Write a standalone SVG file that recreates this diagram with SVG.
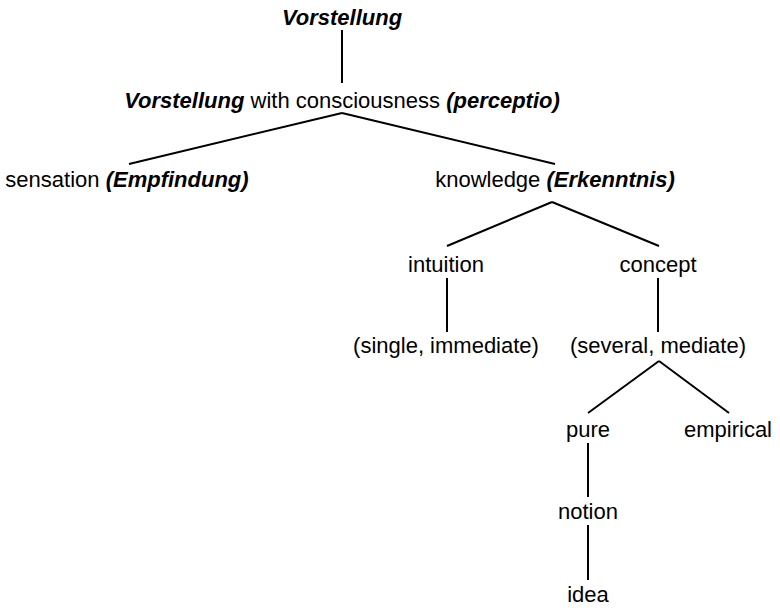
<svg xmlns="http://www.w3.org/2000/svg" width="780" height="608" viewBox="0 0 780 608">
<style>
text{font-family:"Liberation Sans",Arial,sans-serif;font-size:22px;fill:#000;text-anchor:middle}
.b{font-weight:bold;font-style:italic}
.e{stroke:#000;stroke-width:2;fill:none;stroke-linecap:butt}
</style>
<rect width="780" height="608" fill="#fff"/>
<g id="connectors">
<line class="e" x1="342" y1="30" x2="342" y2="83"/>
<line class="e" x1="342" y1="113" x2="129" y2="164"/>
<line class="e" x1="342" y1="113" x2="555" y2="164"/>
<line class="e" x1="552" y1="202" x2="447" y2="246"/>
<line class="e" x1="552" y1="202" x2="659" y2="246"/>
<line class="e" x1="447" y1="278" x2="447" y2="332"/>
<line class="e" x1="658" y1="278" x2="658" y2="332"/>
<line class="e" x1="659" y1="361" x2="588" y2="413"/>
<line class="e" x1="659" y1="361" x2="729" y2="413"/>
<line class="e" x1="588" y1="443" x2="588" y2="497"/>
<line class="e" x1="588" y1="525" x2="588" y2="580"/>
</g>
<g id="vorstellung"><text x="342" y="25" class="b">Vorstellung</text></g>
<g id="perceptio"><text x="342" y="108"><tspan class="b">Vorstellung</tspan> with consciousness <tspan class="b">(perceptio)</tspan></text></g>
<g id="sensation"><text x="127" y="187">sensation <tspan class="b">(Empfindung)</tspan></text></g>
<g id="knowledge"><text x="555" y="187">knowledge <tspan class="b">(Erkenntnis)</tspan></text></g>
<g id="intuition"><text x="446" y="272">intuition</text></g>
<g id="concept"><text x="658" y="272">concept</text></g>
<g id="single"><text x="446" y="353">(single, immediate)</text></g>
<g id="several"><text x="658" y="353">(several, mediate)</text></g>
<g id="pure"><text x="588" y="437">pure</text></g>
<g id="empirical"><text x="728" y="437">empirical</text></g>
<g id="notion"><text x="588" y="519">notion</text></g>
<g id="idea"><text x="588" y="602">idea</text></g>
</svg>
